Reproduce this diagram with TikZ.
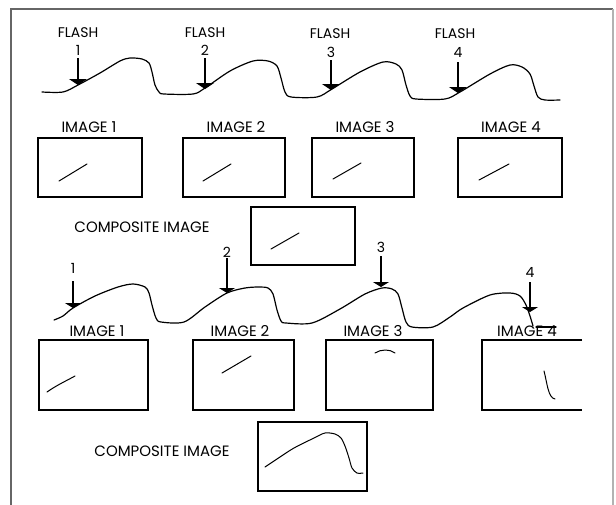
\documentclass[tikz,border=0pt]{standalone}
\usepackage{fontspec}
\setmainfont{Poppins}
\usetikzlibrary{arrows.meta}
\begin{document}
\begin{tikzpicture}[x=1pt,y=-1pt,
  flashlbl/.style={inner sep=0pt, font=\fontsize{14}{14}\selectfont},
  numlbl/.style={inner sep=0pt, font=\fontsize{14}{14}\selectfont},
  imglbl/.style={inner sep=0pt, font=\fontsize{15}{15}\selectfont},
  wave/.style={line width=1.2pt, line join=round, line cap=round},
  frame/.style={draw, line width=1.3pt, inner sep=0pt},
  stroke/.style={line width=1pt, line cap=round},
  flasharrow/.style={line width=1.1pt, -{Triangle[width=18pt,length=6pt]}},
  flasharrowb/.style={line width=1.1pt, -{Triangle[width=16pt,length=5pt]}}]
\useasboundingbox (0,0) rectangle (616,504);
% outer frame
\draw[line width=1.6pt, black!60] (11,505) -- (11,9) -- (613,9);
\draw[line width=1.6pt, black!30] (613,9) -- (613,505);

% ---------- top timeline ----------
\node[flashlbl] (f1) at (78,33) {FLASH};
\node[flashlbl] (f2) at (205,33) {FLASH};
\node[flashlbl] (f3) at (330,34) {FLASH};
\node[flashlbl] (f4) at (455,34) {FLASH};
\node[numlbl] (n1) at (78,50) {1};
\node[numlbl] (n2) at (205,50) {2};
\node[numlbl] (n3) at (331,52) {3};
\node[numlbl] (n4) at (458,52) {4};
\coordinate (t1) at (78,85);
\coordinate (t2) at (205,89);
\coordinate (t3) at (331,90);
\coordinate (t4) at (458,93);
\draw[wave] plot[smooth, tension=0.5] coordinates {(42,92) (63,92) (78,85) (100,73) (120,61) (130,58) (142,59) (149,63) (152,72) (155,85) (159,92) (164,94) (193,94) (205,88) (230,71) (253,61) (268,61) (277,66) (281,78) (285,92) (291,97) (317,97) (332,89) (360,72) (383,62) (396,64) (402,70) (406,85) (410,96) (416,99) (445,99) (460,92) (490,74) (510,65) (522,67) (530,74) (534,86) (538,97) (545,100) (560,100)};
\draw[flasharrow, shorten <=3pt] (n1) -- (t1);
\draw[flasharrow, shorten <=3pt] (n2) -- (t2);
\draw[flasharrow, shorten <=3pt] (n3) -- (t3);
\draw[flasharrow, shorten <=5pt] (n4) -- (t4);

% ---------- first row of images ----------
\node[imglbl] (l1) at (89,127) {IMAGE 1};
\node[imglbl] (l2) at (236,127) {IMAGE 2};
\node[imglbl] (l3) at (365,127) {IMAGE 3};
\node[imglbl] (l4) at (511,127) {IMAGE 4};
\node[frame, minimum width=104pt, minimum height=59pt] (b1) at (90,167.5) {};
\node[frame, minimum width=102pt, minimum height=59pt] (b2) at (234,167.5) {};
\node[frame, minimum width=102pt, minimum height=59pt] (b3) at (363,167.5) {};
\node[frame, minimum width=104pt, minimum height=59pt] (b4) at (510,167.5) {};
\draw[stroke] (59,181) -- (87,164);
\draw[stroke] (203,181) -- (231,164);
\draw[stroke] (333,179) -- (361,163);
\draw[stroke] (479,180) -- (509,164);

\node[imglbl] (c1) at (142,227) {COMPOSITE IMAGE};
\node[frame, minimum width=104pt, minimum height=58pt] (cb1) at (303,236) {};
\draw[stroke] (271,249) -- (299,233);

% ---------- bottom timeline ----------
\node[numlbl] (m1) at (73,268) {1};
\node[numlbl] (m2) at (227,252) {2};
\node[numlbl] (m3) at (381,247) {3};
\node[numlbl] (m4) at (530,272) {4};
\coordinate (u1) at (73,308);
\coordinate (u2) at (227,293);
\coordinate (u3) at (381,287);
\coordinate (u4) at (530,312);
\draw[wave] plot[smooth, tension=0.5] coordinates {(54,320) (63,316) (73,308) (95,296) (118,287) (133,284) (145,287) (149,293) (152,305) (156,318) (161,322) (184,322) (205,307) (227,293) (245,288) (259,287) (268,288) (273,294) (277,310) (281,321) (286,323) (312,323) (340,309) (365,294) (382,288) (392,289) (398,294) (402,308) (406,322) (412,327) (433,327) (450,317) (463,308) (490,295) (510,293) (520,296) (526,305) (530,316) (533,326)};
\draw[wave] (536,327) -- (556,327);
\draw[flasharrowb, shorten <=8pt] (m1) -- (u1);
\draw[flasharrowb, shorten <=1pt] (m2) -- (u2);
\draw[flasharrowb, shorten <=4pt] (m3) -- (u3);
\draw[flasharrowb, shorten <=5pt] (m4) -- (u4);

% ---------- second row of images ----------
\node[imglbl] (k1) at (97,331) {IMAGE 1};
\node[imglbl] (k2) at (240,331) {IMAGE 2};
\node[imglbl] (k3) at (373,331) {IMAGE 3};
\node[imglbl] (k4) at (527,331) {IMAGE 4};
\node[frame, minimum width=109pt, minimum height=70pt] (d1) at (93.5,375) {};
\node[frame, minimum width=101pt, minimum height=70pt] (d2) at (243.5,375) {};
\node[frame, minimum width=107pt, minimum height=70pt] (d3) at (379.5,375) {};
\draw[line width=1.3pt] (582,340) -- (482,340) -- (482,410) -- (582,410);
\draw[stroke] (47,392) .. controls (57,385) and (66,381) .. (75,376);
\draw[stroke] (222,373) -- (251,356);
\draw[stroke] (375,353) .. controls (381,349) and (390,349) .. (395,353);
\draw[stroke] (544,371) .. controls (547,382) and (548,398) .. (555,399);

\node[imglbl] (c2) at (162,451) {COMPOSITE IMAGE};
\node[frame, minimum width=109pt, minimum height=69pt] (cb2) at (312.5,456.5) {};
\draw[stroke] plot[smooth, tension=0.5] coordinates {(265,467) (280,457) (294,448) (314,438) (325,433) (335,434) (341,438) (345,446) (349,458) (352,468) (357,473) (363,473)};
\end{tikzpicture}
\end{document}
